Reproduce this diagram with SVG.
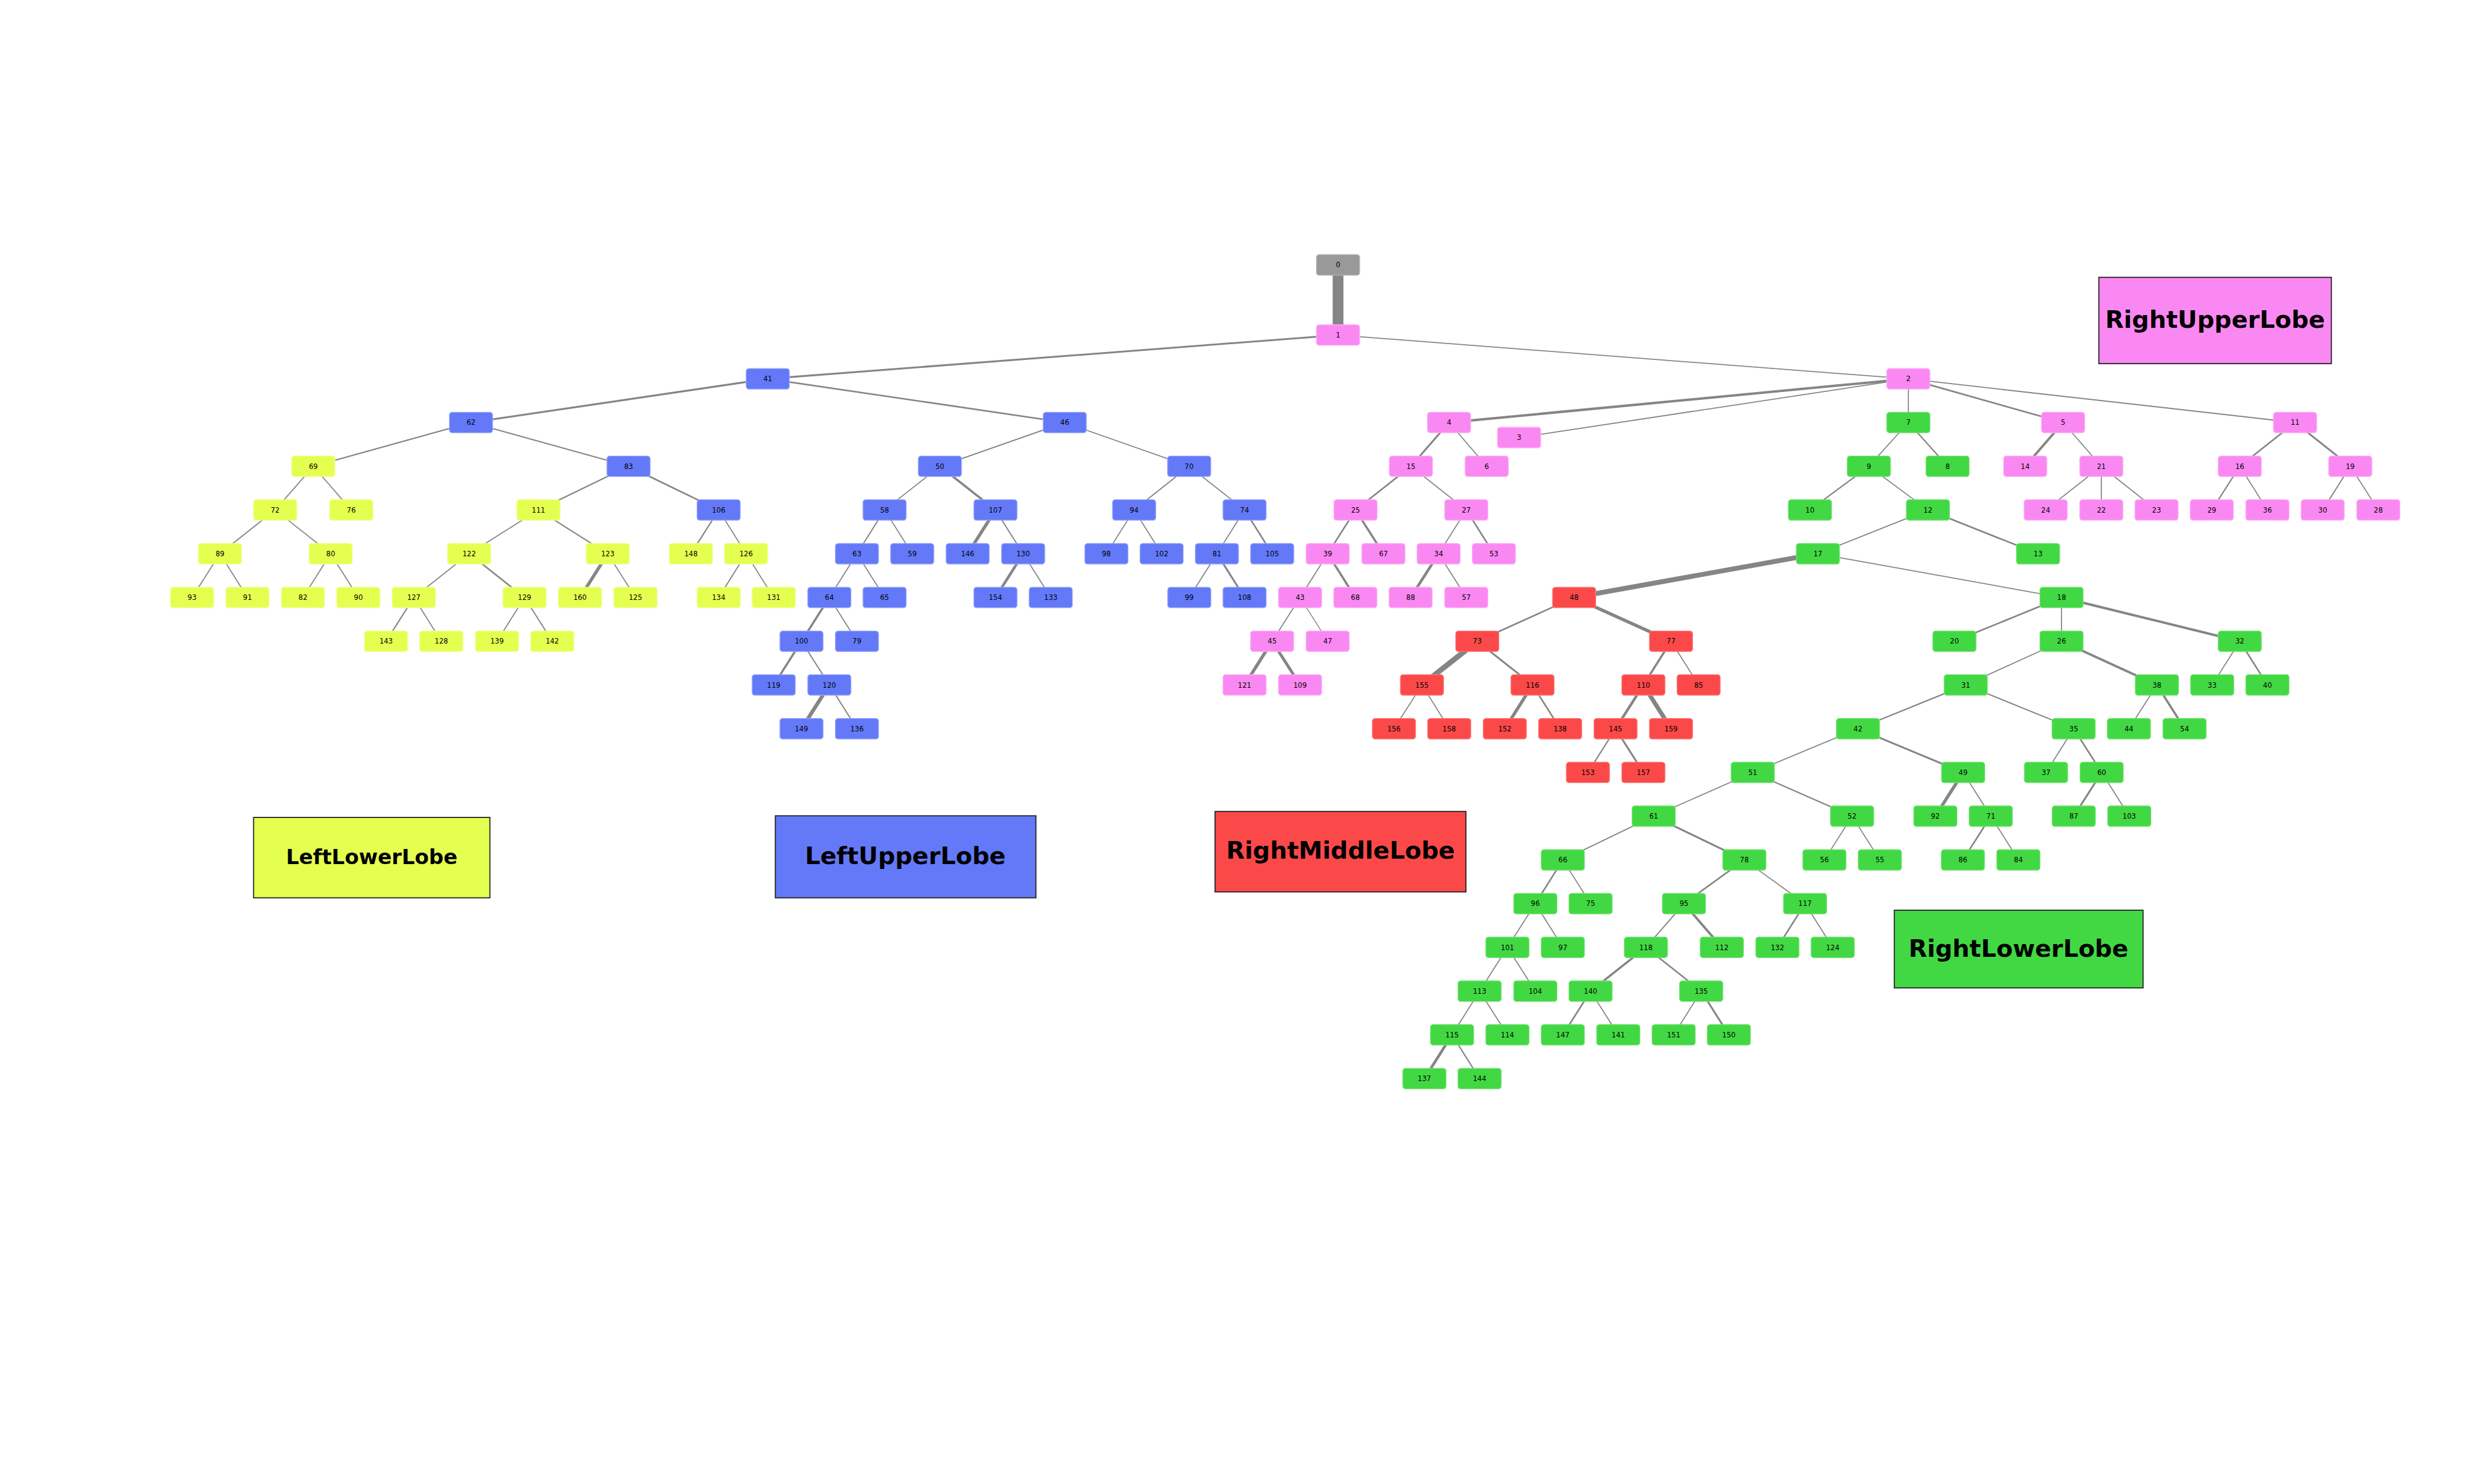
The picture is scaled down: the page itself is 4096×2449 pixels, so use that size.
<svg xmlns="http://www.w3.org/2000/svg" xmlns:xlink="http://www.w3.org/1999/xlink" width="4096" height="2449" viewBox="0 0 4096 2449">
<style>
.e line{stroke:#858585;stroke-linecap:butt}
.k{fill:#999999;stroke:#b5b5b5}
.p{fill:#fa88f2;stroke:#fcaef7}
.b{fill:#6479f8;stroke:#98a6fb}
.y{fill:#e5ff50;stroke:#eeff8c}
.r{fill:#fb4949;stroke:#fc7c7c}
.g{fill:#42d843;stroke:#74e175}
.nodes use{stroke-width:1.5}
.nodes text{font-family:"DejaVu Sans","Liberation Sans",sans-serif;font-size:13px;text-anchor:middle;fill:#000;stroke:none}
.lg{stroke:#222;stroke-width:2}
.lt{font-family:"DejaVu Sans","Liberation Sans",sans-serif;font-weight:bold;font-size:44.5px;text-anchor:middle;fill:#000;stroke:none}
</style>
<defs><rect id="bx" x="-40" y="-19" width="80" height="38" rx="5"/></defs>
<rect width="4096" height="2449" fill="#fff"/>
<g transform="scale(0.8904)">
<g id="connectors" class="e">
<line x1="2480" y1="491" x2="2480" y2="621" stroke-width="20"/>
<line x1="2480" y1="621" x2="1423" y2="702.1" stroke-width="3.5"/>
<line x1="2480" y1="621" x2="3537" y2="702.1" stroke-width="2"/>
<line x1="1423" y1="702.1" x2="873" y2="783.1" stroke-width="3.5"/>
<line x1="1423" y1="702.1" x2="1973.5" y2="783.1" stroke-width="3"/>
<line x1="873" y1="783.1" x2="580.7" y2="864.2" stroke-width="2.5"/>
<line x1="873" y1="783.1" x2="1165" y2="864.2" stroke-width="2.2"/>
<line x1="580.7" y1="864.2" x2="510" y2="945.2" stroke-width="2"/>
<line x1="580.7" y1="864.2" x2="651" y2="945.2" stroke-width="2"/>
<line x1="510" y1="945.2" x2="407.7" y2="1026.3" stroke-width="2.2"/>
<line x1="510" y1="945.2" x2="612.8" y2="1026.3" stroke-width="2"/>
<line x1="407.7" y1="1026.3" x2="356" y2="1107.4" stroke-width="2"/>
<line x1="407.7" y1="1026.3" x2="458.7" y2="1107.4" stroke-width="2"/>
<line x1="612.8" y1="1026.3" x2="561.5" y2="1107.4" stroke-width="2"/>
<line x1="612.8" y1="1026.3" x2="664.2" y2="1107.4" stroke-width="2"/>
<line x1="1165" y1="864.2" x2="998" y2="945.2" stroke-width="2.5"/>
<line x1="1165" y1="864.2" x2="1332" y2="945.2" stroke-width="3"/>
<line x1="998" y1="945.2" x2="869.5" y2="1026.3" stroke-width="2"/>
<line x1="998" y1="945.2" x2="1126.4" y2="1026.3" stroke-width="2.5"/>
<line x1="869.5" y1="1026.3" x2="767" y2="1107.4" stroke-width="2"/>
<line x1="869.5" y1="1026.3" x2="972.2" y2="1107.4" stroke-width="3"/>
<line x1="767" y1="1107.4" x2="715.6" y2="1188.5" stroke-width="2.5"/>
<line x1="767" y1="1107.4" x2="818" y2="1188.5" stroke-width="2"/>
<line x1="972.2" y1="1107.4" x2="921.2" y2="1188.5" stroke-width="2"/>
<line x1="972.2" y1="1107.4" x2="1023.6" y2="1188.5" stroke-width="2.2"/>
<line x1="1126.4" y1="1026.3" x2="1075" y2="1107.4" stroke-width="6"/>
<line x1="1126.4" y1="1026.3" x2="1177.8" y2="1107.4" stroke-width="2"/>
<line x1="1332" y1="945.2" x2="1280.6" y2="1026.3" stroke-width="2.5"/>
<line x1="1332" y1="945.2" x2="1382.8" y2="1026.3" stroke-width="2"/>
<line x1="1382.8" y1="1026.3" x2="1332" y2="1107.4" stroke-width="2.2"/>
<line x1="1382.8" y1="1026.3" x2="1434" y2="1107.4" stroke-width="2"/>
<line x1="1973.5" y1="783.1" x2="1742" y2="864.2" stroke-width="2.2"/>
<line x1="1973.5" y1="783.1" x2="2204" y2="864.2" stroke-width="2"/>
<line x1="1742" y1="864.2" x2="1639.5" y2="945.2" stroke-width="2"/>
<line x1="1742" y1="864.2" x2="1845" y2="945.2" stroke-width="4"/>
<line x1="1639.5" y1="945.2" x2="1588.3" y2="1026.3" stroke-width="2.2"/>
<line x1="1639.5" y1="945.2" x2="1690.7" y2="1026.3" stroke-width="2"/>
<line x1="1588.3" y1="1026.3" x2="1537.1" y2="1107.4" stroke-width="2"/>
<line x1="1588.3" y1="1026.3" x2="1639.5" y2="1107.4" stroke-width="2"/>
<line x1="1537.1" y1="1107.4" x2="1485.5" y2="1188.5" stroke-width="4"/>
<line x1="1537.1" y1="1107.4" x2="1588.3" y2="1188.5" stroke-width="2"/>
<line x1="1485.5" y1="1188.5" x2="1434" y2="1269.5" stroke-width="4"/>
<line x1="1485.5" y1="1188.5" x2="1537.1" y2="1269.5" stroke-width="2.2"/>
<line x1="1537.1" y1="1269.5" x2="1485.5" y2="1350.6" stroke-width="7"/>
<line x1="1537.1" y1="1269.5" x2="1588.3" y2="1350.6" stroke-width="2.2"/>
<line x1="1845" y1="945.2" x2="1793.5" y2="1026.3" stroke-width="6"/>
<line x1="1845" y1="945.2" x2="1896.3" y2="1026.3" stroke-width="2.2"/>
<line x1="1896.3" y1="1026.3" x2="1845" y2="1107.4" stroke-width="5"/>
<line x1="1896.3" y1="1026.3" x2="1947.5" y2="1107.4" stroke-width="2"/>
<line x1="2204" y1="864.2" x2="2102" y2="945.2" stroke-width="2.2"/>
<line x1="2204" y1="864.2" x2="2306.7" y2="945.2" stroke-width="2"/>
<line x1="2102" y1="945.2" x2="2050.6" y2="1026.3" stroke-width="2"/>
<line x1="2102" y1="945.2" x2="2153" y2="1026.3" stroke-width="2"/>
<line x1="2306.7" y1="945.2" x2="2255.5" y2="1026.3" stroke-width="2"/>
<line x1="2306.7" y1="945.2" x2="2357.9" y2="1026.3" stroke-width="3"/>
<line x1="2255.5" y1="1026.3" x2="2204.2" y2="1107.4" stroke-width="2"/>
<line x1="2255.5" y1="1026.3" x2="2306.7" y2="1107.4" stroke-width="3.5"/>
<line x1="3537" y1="702.1" x2="2685.7" y2="783.1" stroke-width="4.5"/>
<line x1="3537" y1="702.1" x2="2815.5" y2="811" stroke-width="2"/>
<line x1="3537" y1="702.1" x2="3537" y2="783.1" stroke-width="2"/>
<line x1="3537" y1="702.1" x2="3823.7" y2="783.1" stroke-width="3"/>
<line x1="3537" y1="702.1" x2="4253.7" y2="783.1" stroke-width="2.2"/>
<line x1="2685.7" y1="783.1" x2="2615" y2="864.2" stroke-width="3.5"/>
<line x1="2685.7" y1="783.1" x2="2755.5" y2="864.2" stroke-width="2"/>
<line x1="2615" y1="864.2" x2="2512.4" y2="945.2" stroke-width="3"/>
<line x1="2615" y1="864.2" x2="2717.6" y2="945.2" stroke-width="2"/>
<line x1="2512.4" y1="945.2" x2="2460.8" y2="1026.3" stroke-width="3"/>
<line x1="2512.4" y1="945.2" x2="2564" y2="1026.3" stroke-width="4"/>
<line x1="2717.6" y1="945.2" x2="2666.4" y2="1026.3" stroke-width="2"/>
<line x1="2717.6" y1="945.2" x2="2768.8" y2="1026.3" stroke-width="3"/>
<line x1="2460.8" y1="1026.3" x2="2409.6" y2="1107.4" stroke-width="2"/>
<line x1="2460.8" y1="1026.3" x2="2512" y2="1107.4" stroke-width="4"/>
<line x1="2666.4" y1="1026.3" x2="2614.5" y2="1107.4" stroke-width="5"/>
<line x1="2666.4" y1="1026.3" x2="2717.6" y2="1107.4" stroke-width="2"/>
<line x1="2409.6" y1="1107.4" x2="2357.8" y2="1188.5" stroke-width="2"/>
<line x1="2409.6" y1="1107.4" x2="2460.8" y2="1188.5" stroke-width="1.6"/>
<line x1="2357.8" y1="1188.5" x2="2306.7" y2="1269.5" stroke-width="6"/>
<line x1="2357.8" y1="1188.5" x2="2409.6" y2="1269.5" stroke-width="5.5"/>
<line x1="3823.7" y1="783.1" x2="3753.6" y2="864.2" stroke-width="4.5"/>
<line x1="3823.7" y1="783.1" x2="3894.6" y2="864.2" stroke-width="2"/>
<line x1="3894.6" y1="864.2" x2="3791.5" y2="945.2" stroke-width="2"/>
<line x1="3894.6" y1="864.2" x2="3894.6" y2="945.2" stroke-width="2"/>
<line x1="3894.6" y1="864.2" x2="3997" y2="945.2" stroke-width="2"/>
<line x1="4253.7" y1="783.1" x2="4151.3" y2="864.2" stroke-width="3"/>
<line x1="4253.7" y1="783.1" x2="4356" y2="864.2" stroke-width="3.5"/>
<line x1="4151.3" y1="864.2" x2="4099.4" y2="945.2" stroke-width="2.5"/>
<line x1="4151.3" y1="864.2" x2="4202.5" y2="945.2" stroke-width="2"/>
<line x1="4356" y1="864.2" x2="4305" y2="945.2" stroke-width="2.2"/>
<line x1="4356" y1="864.2" x2="4408" y2="945.2" stroke-width="2"/>
<line x1="3537" y1="783.1" x2="3463.8" y2="864.2" stroke-width="2"/>
<line x1="3537" y1="783.1" x2="3609.7" y2="864.2" stroke-width="2.5"/>
<line x1="3463.8" y1="864.2" x2="3354.6" y2="945.2" stroke-width="2.5"/>
<line x1="3463.8" y1="864.2" x2="3573.3" y2="945.2" stroke-width="2"/>
<line x1="3573.3" y1="945.2" x2="3369.3" y2="1026.3" stroke-width="2.2"/>
<line x1="3573.3" y1="945.2" x2="3777.4" y2="1026.3" stroke-width="3"/>
<line x1="3369.3" y1="1026.3" x2="2917.5" y2="1107.4" stroke-width="9"/>
<line x1="3369.3" y1="1026.3" x2="3820.9" y2="1107.4" stroke-width="2"/>
<line x1="2917.5" y1="1107.4" x2="2738" y2="1188.5" stroke-width="3"/>
<line x1="2917.5" y1="1107.4" x2="3097.1" y2="1188.5" stroke-width="6"/>
<line x1="2738" y1="1188.5" x2="2635.5" y2="1269.5" stroke-width="10"/>
<line x1="2738" y1="1188.5" x2="2840.4" y2="1269.5" stroke-width="3.5"/>
<line x1="3097.1" y1="1188.5" x2="3045.9" y2="1269.5" stroke-width="4"/>
<line x1="3097.1" y1="1188.5" x2="3148.3" y2="1269.5" stroke-width="2"/>
<line x1="2635.5" y1="1269.5" x2="2583.6" y2="1350.6" stroke-width="2"/>
<line x1="2635.5" y1="1269.5" x2="2686" y2="1350.6" stroke-width="2"/>
<line x1="2840.4" y1="1269.5" x2="2789.1" y2="1350.6" stroke-width="6"/>
<line x1="2840.4" y1="1269.5" x2="2891.6" y2="1350.6" stroke-width="3"/>
<line x1="3045.9" y1="1269.5" x2="2994.3" y2="1350.6" stroke-width="5"/>
<line x1="3045.9" y1="1269.5" x2="3097.1" y2="1350.6" stroke-width="8"/>
<line x1="2994.3" y1="1350.6" x2="2943.1" y2="1431.7" stroke-width="2.5"/>
<line x1="2994.3" y1="1350.6" x2="3045.9" y2="1431.7" stroke-width="3.5"/>
<line x1="3820.9" y1="1107.4" x2="3622.4" y2="1188.5" stroke-width="3"/>
<line x1="3820.9" y1="1107.4" x2="3820.9" y2="1188.5" stroke-width="2"/>
<line x1="3820.9" y1="1107.4" x2="4151.3" y2="1188.5" stroke-width="4.5"/>
<line x1="3820.9" y1="1188.5" x2="3643.4" y2="1269.5" stroke-width="2"/>
<line x1="3820.9" y1="1188.5" x2="3997.7" y2="1269.5" stroke-width="4.5"/>
<line x1="4151.3" y1="1188.5" x2="4100.1" y2="1269.5" stroke-width="2"/>
<line x1="4151.3" y1="1188.5" x2="4202.5" y2="1269.5" stroke-width="3"/>
<line x1="3643.4" y1="1269.5" x2="3443.6" y2="1350.6" stroke-width="2.5"/>
<line x1="3643.4" y1="1269.5" x2="3843.4" y2="1350.6" stroke-width="2.2"/>
<line x1="3997.7" y1="1269.5" x2="3945.8" y2="1350.6" stroke-width="2"/>
<line x1="3997.7" y1="1269.5" x2="4048.9" y2="1350.6" stroke-width="4"/>
<line x1="3443.6" y1="1350.6" x2="3248.6" y2="1431.7" stroke-width="2"/>
<line x1="3443.6" y1="1350.6" x2="3638.5" y2="1431.7" stroke-width="3.5"/>
<line x1="3843.4" y1="1350.6" x2="3792.1" y2="1431.7" stroke-width="2"/>
<line x1="3843.4" y1="1350.6" x2="3895.3" y2="1431.7" stroke-width="3"/>
<line x1="3638.5" y1="1431.7" x2="3587" y2="1512.7" stroke-width="6"/>
<line x1="3638.5" y1="1431.7" x2="3689.8" y2="1512.7" stroke-width="2"/>
<line x1="3895.3" y1="1431.7" x2="3843.6" y2="1512.7" stroke-width="3.5"/>
<line x1="3895.3" y1="1431.7" x2="3946.4" y2="1512.7" stroke-width="2"/>
<line x1="3689.8" y1="1512.7" x2="3638.1" y2="1593.8" stroke-width="3"/>
<line x1="3689.8" y1="1512.7" x2="3740.9" y2="1593.8" stroke-width="2"/>
<line x1="3248.6" y1="1431.7" x2="3065" y2="1512.7" stroke-width="2"/>
<line x1="3248.6" y1="1431.7" x2="3432.7" y2="1512.7" stroke-width="2.5"/>
<line x1="3432.7" y1="1512.7" x2="3381.4" y2="1593.8" stroke-width="2"/>
<line x1="3432.7" y1="1512.7" x2="3484.2" y2="1593.8" stroke-width="2"/>
<line x1="3065" y1="1512.7" x2="2896.6" y2="1593.8" stroke-width="2.2"/>
<line x1="3065" y1="1512.7" x2="3233" y2="1593.8" stroke-width="3.5"/>
<line x1="2896.6" y1="1593.8" x2="2845.6" y2="1674.8" stroke-width="3"/>
<line x1="2896.6" y1="1593.8" x2="2948" y2="1674.8" stroke-width="2"/>
<line x1="3233" y1="1593.8" x2="3121.1" y2="1674.8" stroke-width="3"/>
<line x1="3233" y1="1593.8" x2="3345.5" y2="1674.8" stroke-width="2"/>
<line x1="2845.6" y1="1674.8" x2="2793.9" y2="1755.9" stroke-width="2"/>
<line x1="2845.6" y1="1674.8" x2="2896.6" y2="1755.9" stroke-width="2"/>
<line x1="3121.1" y1="1674.8" x2="3050.6" y2="1755.9" stroke-width="2.2"/>
<line x1="3121.1" y1="1674.8" x2="3191.3" y2="1755.9" stroke-width="4.5"/>
<line x1="3345.5" y1="1674.8" x2="3294.3" y2="1755.9" stroke-width="3"/>
<line x1="3345.5" y1="1674.8" x2="3396.8" y2="1755.9" stroke-width="2"/>
<line x1="2793.9" y1="1755.9" x2="2742.3" y2="1837" stroke-width="2"/>
<line x1="2793.9" y1="1755.9" x2="2845.6" y2="1837" stroke-width="2"/>
<line x1="3050.6" y1="1755.9" x2="2948" y2="1837" stroke-width="4"/>
<line x1="3050.6" y1="1755.9" x2="3153" y2="1837" stroke-width="3"/>
<line x1="2742.3" y1="1837" x2="2691.3" y2="1918" stroke-width="2"/>
<line x1="2742.3" y1="1837" x2="2793.9" y2="1918" stroke-width="2"/>
<line x1="2948" y1="1837" x2="2896.6" y2="1918" stroke-width="3"/>
<line x1="2948" y1="1837" x2="2999.3" y2="1918" stroke-width="2"/>
<line x1="3153" y1="1837" x2="3102" y2="1918" stroke-width="2"/>
<line x1="3153" y1="1837" x2="3204.3" y2="1918" stroke-width="3.5"/>
<line x1="2691.3" y1="1918" x2="2640" y2="1999.1" stroke-width="5"/>
<line x1="2691.3" y1="1918" x2="2742.3" y2="1999.1" stroke-width="2.5"/>
</g>
<g id="nodes" class="nodes">
<g id="n0" class="k" transform="translate(2480,491)"><use href="#bx"/><text y="4.7">0</text></g>
<g id="n1" class="p" transform="translate(2480,621)"><use href="#bx"/><text y="4.7">1</text></g>
<g id="n41" class="b" transform="translate(1423,702.1)"><use href="#bx"/><text y="4.7">41</text></g>
<g id="n2" class="p" transform="translate(3537,702.1)"><use href="#bx"/><text y="4.7">2</text></g>
<g id="n62" class="b" transform="translate(873,783.1)"><use href="#bx"/><text y="4.7">62</text></g>
<g id="n46" class="b" transform="translate(1973.5,783.1)"><use href="#bx"/><text y="4.7">46</text></g>
<g id="n4" class="p" transform="translate(2685.7,783.1)"><use href="#bx"/><text y="4.7">4</text></g>
<g id="n3" class="p" transform="translate(2815.5,811)"><use href="#bx"/><text y="4.7">3</text></g>
<g id="n7" class="g" transform="translate(3537,783.1)"><use href="#bx"/><text y="4.7">7</text></g>
<g id="n5" class="p" transform="translate(3823.7,783.1)"><use href="#bx"/><text y="4.7">5</text></g>
<g id="n11" class="p" transform="translate(4253.7,783.1)"><use href="#bx"/><text y="4.7">11</text></g>
<g id="n69" class="y" transform="translate(580.7,864.2)"><use href="#bx"/><text y="4.7">69</text></g>
<g id="n83" class="b" transform="translate(1165,864.2)"><use href="#bx"/><text y="4.7">83</text></g>
<g id="n50" class="b" transform="translate(1742,864.2)"><use href="#bx"/><text y="4.7">50</text></g>
<g id="n70" class="b" transform="translate(2204,864.2)"><use href="#bx"/><text y="4.7">70</text></g>
<g id="n15" class="p" transform="translate(2615,864.2)"><use href="#bx"/><text y="4.7">15</text></g>
<g id="n6" class="p" transform="translate(2755.5,864.2)"><use href="#bx"/><text y="4.7">6</text></g>
<g id="n9" class="g" transform="translate(3463.8,864.2)"><use href="#bx"/><text y="4.7">9</text></g>
<g id="n8" class="g" transform="translate(3609.7,864.2)"><use href="#bx"/><text y="4.7">8</text></g>
<g id="n14" class="p" transform="translate(3753.6,864.2)"><use href="#bx"/><text y="4.7">14</text></g>
<g id="n21" class="p" transform="translate(3894.6,864.2)"><use href="#bx"/><text y="4.7">21</text></g>
<g id="n16" class="p" transform="translate(4151.3,864.2)"><use href="#bx"/><text y="4.7">16</text></g>
<g id="n19" class="p" transform="translate(4356,864.2)"><use href="#bx"/><text y="4.7">19</text></g>
<g id="n72" class="y" transform="translate(510,945.2)"><use href="#bx"/><text y="4.7">72</text></g>
<g id="n76" class="y" transform="translate(651,945.2)"><use href="#bx"/><text y="4.7">76</text></g>
<g id="n111" class="y" transform="translate(998,945.2)"><use href="#bx"/><text y="4.7">111</text></g>
<g id="n106" class="b" transform="translate(1332,945.2)"><use href="#bx"/><text y="4.7">106</text></g>
<g id="n58" class="b" transform="translate(1639.5,945.2)"><use href="#bx"/><text y="4.7">58</text></g>
<g id="n107" class="b" transform="translate(1845,945.2)"><use href="#bx"/><text y="4.7">107</text></g>
<g id="n94" class="b" transform="translate(2102,945.2)"><use href="#bx"/><text y="4.7">94</text></g>
<g id="n74" class="b" transform="translate(2306.7,945.2)"><use href="#bx"/><text y="4.7">74</text></g>
<g id="n25" class="p" transform="translate(2512.4,945.2)"><use href="#bx"/><text y="4.7">25</text></g>
<g id="n27" class="p" transform="translate(2717.6,945.2)"><use href="#bx"/><text y="4.7">27</text></g>
<g id="n10" class="g" transform="translate(3354.6,945.2)"><use href="#bx"/><text y="4.7">10</text></g>
<g id="n12" class="g" transform="translate(3573.3,945.2)"><use href="#bx"/><text y="4.7">12</text></g>
<g id="n24" class="p" transform="translate(3791.5,945.2)"><use href="#bx"/><text y="4.7">24</text></g>
<g id="n22" class="p" transform="translate(3894.6,945.2)"><use href="#bx"/><text y="4.7">22</text></g>
<g id="n23" class="p" transform="translate(3997,945.2)"><use href="#bx"/><text y="4.7">23</text></g>
<g id="n29" class="p" transform="translate(4099.4,945.2)"><use href="#bx"/><text y="4.7">29</text></g>
<g id="n36" class="p" transform="translate(4202.5,945.2)"><use href="#bx"/><text y="4.7">36</text></g>
<g id="n30" class="p" transform="translate(4305,945.2)"><use href="#bx"/><text y="4.7">30</text></g>
<g id="n28" class="p" transform="translate(4408,945.2)"><use href="#bx"/><text y="4.7">28</text></g>
<g id="n89" class="y" transform="translate(407.7,1026.3)"><use href="#bx"/><text y="4.7">89</text></g>
<g id="n80" class="y" transform="translate(612.8,1026.3)"><use href="#bx"/><text y="4.7">80</text></g>
<g id="n122" class="y" transform="translate(869.5,1026.3)"><use href="#bx"/><text y="4.7">122</text></g>
<g id="n123" class="y" transform="translate(1126.4,1026.3)"><use href="#bx"/><text y="4.7">123</text></g>
<g id="n148" class="y" transform="translate(1280.6,1026.3)"><use href="#bx"/><text y="4.7">148</text></g>
<g id="n126" class="y" transform="translate(1382.8,1026.3)"><use href="#bx"/><text y="4.7">126</text></g>
<g id="n63" class="b" transform="translate(1588.3,1026.3)"><use href="#bx"/><text y="4.7">63</text></g>
<g id="n59" class="b" transform="translate(1690.7,1026.3)"><use href="#bx"/><text y="4.7">59</text></g>
<g id="n146" class="b" transform="translate(1793.5,1026.3)"><use href="#bx"/><text y="4.7">146</text></g>
<g id="n130" class="b" transform="translate(1896.3,1026.3)"><use href="#bx"/><text y="4.7">130</text></g>
<g id="n98" class="b" transform="translate(2050.6,1026.3)"><use href="#bx"/><text y="4.7">98</text></g>
<g id="n102" class="b" transform="translate(2153,1026.3)"><use href="#bx"/><text y="4.7">102</text></g>
<g id="n81" class="b" transform="translate(2255.5,1026.3)"><use href="#bx"/><text y="4.7">81</text></g>
<g id="n105" class="b" transform="translate(2357.9,1026.3)"><use href="#bx"/><text y="4.7">105</text></g>
<g id="n39" class="p" transform="translate(2460.8,1026.3)"><use href="#bx"/><text y="4.7">39</text></g>
<g id="n67" class="p" transform="translate(2564,1026.3)"><use href="#bx"/><text y="4.7">67</text></g>
<g id="n34" class="p" transform="translate(2666.4,1026.3)"><use href="#bx"/><text y="4.7">34</text></g>
<g id="n53" class="p" transform="translate(2768.8,1026.3)"><use href="#bx"/><text y="4.7">53</text></g>
<g id="n17" class="g" transform="translate(3369.3,1026.3)"><use href="#bx"/><text y="4.7">17</text></g>
<g id="n13" class="g" transform="translate(3777.4,1026.3)"><use href="#bx"/><text y="4.7">13</text></g>
<g id="n93" class="y" transform="translate(356,1107.4)"><use href="#bx"/><text y="4.7">93</text></g>
<g id="n91" class="y" transform="translate(458.7,1107.4)"><use href="#bx"/><text y="4.7">91</text></g>
<g id="n82" class="y" transform="translate(561.5,1107.4)"><use href="#bx"/><text y="4.7">82</text></g>
<g id="n90" class="y" transform="translate(664.2,1107.4)"><use href="#bx"/><text y="4.7">90</text></g>
<g id="n127" class="y" transform="translate(767,1107.4)"><use href="#bx"/><text y="4.7">127</text></g>
<g id="n129" class="y" transform="translate(972.2,1107.4)"><use href="#bx"/><text y="4.7">129</text></g>
<g id="n160" class="y" transform="translate(1075,1107.4)"><use href="#bx"/><text y="4.7">160</text></g>
<g id="n125" class="y" transform="translate(1177.8,1107.4)"><use href="#bx"/><text y="4.7">125</text></g>
<g id="n134" class="y" transform="translate(1332,1107.4)"><use href="#bx"/><text y="4.7">134</text></g>
<g id="n131" class="y" transform="translate(1434,1107.4)"><use href="#bx"/><text y="4.7">131</text></g>
<g id="n64" class="b" transform="translate(1537.1,1107.4)"><use href="#bx"/><text y="4.7">64</text></g>
<g id="n65" class="b" transform="translate(1639.5,1107.4)"><use href="#bx"/><text y="4.7">65</text></g>
<g id="n154" class="b" transform="translate(1845,1107.4)"><use href="#bx"/><text y="4.7">154</text></g>
<g id="n133" class="b" transform="translate(1947.5,1107.4)"><use href="#bx"/><text y="4.7">133</text></g>
<g id="n99" class="b" transform="translate(2204.2,1107.4)"><use href="#bx"/><text y="4.7">99</text></g>
<g id="n108" class="b" transform="translate(2306.7,1107.4)"><use href="#bx"/><text y="4.7">108</text></g>
<g id="n43" class="p" transform="translate(2409.6,1107.4)"><use href="#bx"/><text y="4.7">43</text></g>
<g id="n68" class="p" transform="translate(2512,1107.4)"><use href="#bx"/><text y="4.7">68</text></g>
<g id="n88" class="p" transform="translate(2614.5,1107.4)"><use href="#bx"/><text y="4.7">88</text></g>
<g id="n57" class="p" transform="translate(2717.6,1107.4)"><use href="#bx"/><text y="4.7">57</text></g>
<g id="n48" class="r" transform="translate(2917.5,1107.4)"><use href="#bx"/><text y="4.7">48</text></g>
<g id="n18" class="g" transform="translate(3820.9,1107.4)"><use href="#bx"/><text y="4.7">18</text></g>
<g id="n143" class="y" transform="translate(715.6,1188.5)"><use href="#bx"/><text y="4.7">143</text></g>
<g id="n128" class="y" transform="translate(818,1188.5)"><use href="#bx"/><text y="4.7">128</text></g>
<g id="n139" class="y" transform="translate(921.2,1188.5)"><use href="#bx"/><text y="4.7">139</text></g>
<g id="n142" class="y" transform="translate(1023.6,1188.5)"><use href="#bx"/><text y="4.7">142</text></g>
<g id="n100" class="b" transform="translate(1485.5,1188.5)"><use href="#bx"/><text y="4.7">100</text></g>
<g id="n79" class="b" transform="translate(1588.3,1188.5)"><use href="#bx"/><text y="4.7">79</text></g>
<g id="n45" class="p" transform="translate(2357.8,1188.5)"><use href="#bx"/><text y="4.7">45</text></g>
<g id="n47" class="p" transform="translate(2460.8,1188.5)"><use href="#bx"/><text y="4.7">47</text></g>
<g id="n73" class="r" transform="translate(2738,1188.5)"><use href="#bx"/><text y="4.7">73</text></g>
<g id="n77" class="r" transform="translate(3097.1,1188.5)"><use href="#bx"/><text y="4.7">77</text></g>
<g id="n20" class="g" transform="translate(3622.4,1188.5)"><use href="#bx"/><text y="4.7">20</text></g>
<g id="n26" class="g" transform="translate(3820.9,1188.5)"><use href="#bx"/><text y="4.7">26</text></g>
<g id="n32" class="g" transform="translate(4151.3,1188.5)"><use href="#bx"/><text y="4.7">32</text></g>
<g id="n119" class="b" transform="translate(1434,1269.5)"><use href="#bx"/><text y="4.7">119</text></g>
<g id="n120" class="b" transform="translate(1537.1,1269.5)"><use href="#bx"/><text y="4.7">120</text></g>
<g id="n121" class="p" transform="translate(2306.7,1269.5)"><use href="#bx"/><text y="4.7">121</text></g>
<g id="n109" class="p" transform="translate(2409.6,1269.5)"><use href="#bx"/><text y="4.7">109</text></g>
<g id="n155" class="r" transform="translate(2635.5,1269.5)"><use href="#bx"/><text y="4.7">155</text></g>
<g id="n116" class="r" transform="translate(2840.4,1269.5)"><use href="#bx"/><text y="4.7">116</text></g>
<g id="n110" class="r" transform="translate(3045.9,1269.5)"><use href="#bx"/><text y="4.7">110</text></g>
<g id="n85" class="r" transform="translate(3148.3,1269.5)"><use href="#bx"/><text y="4.7">85</text></g>
<g id="n31" class="g" transform="translate(3643.4,1269.5)"><use href="#bx"/><text y="4.7">31</text></g>
<g id="n38" class="g" transform="translate(3997.7,1269.5)"><use href="#bx"/><text y="4.7">38</text></g>
<g id="n33" class="g" transform="translate(4100.1,1269.5)"><use href="#bx"/><text y="4.7">33</text></g>
<g id="n40" class="g" transform="translate(4202.5,1269.5)"><use href="#bx"/><text y="4.7">40</text></g>
<g id="n149" class="b" transform="translate(1485.5,1350.6)"><use href="#bx"/><text y="4.7">149</text></g>
<g id="n136" class="b" transform="translate(1588.3,1350.6)"><use href="#bx"/><text y="4.7">136</text></g>
<g id="n156" class="r" transform="translate(2583.6,1350.6)"><use href="#bx"/><text y="4.7">156</text></g>
<g id="n158" class="r" transform="translate(2686,1350.6)"><use href="#bx"/><text y="4.7">158</text></g>
<g id="n152" class="r" transform="translate(2789.1,1350.6)"><use href="#bx"/><text y="4.7">152</text></g>
<g id="n138" class="r" transform="translate(2891.6,1350.6)"><use href="#bx"/><text y="4.7">138</text></g>
<g id="n145" class="r" transform="translate(2994.3,1350.6)"><use href="#bx"/><text y="4.7">145</text></g>
<g id="n159" class="r" transform="translate(3097.1,1350.6)"><use href="#bx"/><text y="4.7">159</text></g>
<g id="n42" class="g" transform="translate(3443.6,1350.6)"><use href="#bx"/><text y="4.7">42</text></g>
<g id="n35" class="g" transform="translate(3843.4,1350.6)"><use href="#bx"/><text y="4.7">35</text></g>
<g id="n44" class="g" transform="translate(3945.8,1350.6)"><use href="#bx"/><text y="4.7">44</text></g>
<g id="n54" class="g" transform="translate(4048.9,1350.6)"><use href="#bx"/><text y="4.7">54</text></g>
<g id="n153" class="r" transform="translate(2943.1,1431.7)"><use href="#bx"/><text y="4.7">153</text></g>
<g id="n157" class="r" transform="translate(3045.9,1431.7)"><use href="#bx"/><text y="4.7">157</text></g>
<g id="n51" class="g" transform="translate(3248.6,1431.7)"><use href="#bx"/><text y="4.7">51</text></g>
<g id="n49" class="g" transform="translate(3638.5,1431.7)"><use href="#bx"/><text y="4.7">49</text></g>
<g id="n37" class="g" transform="translate(3792.1,1431.7)"><use href="#bx"/><text y="4.7">37</text></g>
<g id="n60" class="g" transform="translate(3895.3,1431.7)"><use href="#bx"/><text y="4.7">60</text></g>
<g id="n61" class="g" transform="translate(3065,1512.7)"><use href="#bx"/><text y="4.7">61</text></g>
<g id="n52" class="g" transform="translate(3432.7,1512.7)"><use href="#bx"/><text y="4.7">52</text></g>
<g id="n92" class="g" transform="translate(3587,1512.7)"><use href="#bx"/><text y="4.7">92</text></g>
<g id="n71" class="g" transform="translate(3689.8,1512.7)"><use href="#bx"/><text y="4.7">71</text></g>
<g id="n87" class="g" transform="translate(3843.6,1512.7)"><use href="#bx"/><text y="4.7">87</text></g>
<g id="n103" class="g" transform="translate(3946.4,1512.7)"><use href="#bx"/><text y="4.7">103</text></g>
<g id="n66" class="g" transform="translate(2896.6,1593.8)"><use href="#bx"/><text y="4.7">66</text></g>
<g id="n78" class="g" transform="translate(3233,1593.8)"><use href="#bx"/><text y="4.7">78</text></g>
<g id="n56" class="g" transform="translate(3381.4,1593.8)"><use href="#bx"/><text y="4.7">56</text></g>
<g id="n55" class="g" transform="translate(3484.2,1593.8)"><use href="#bx"/><text y="4.7">55</text></g>
<g id="n86" class="g" transform="translate(3638.1,1593.8)"><use href="#bx"/><text y="4.7">86</text></g>
<g id="n84" class="g" transform="translate(3740.9,1593.8)"><use href="#bx"/><text y="4.7">84</text></g>
<g id="n96" class="g" transform="translate(2845.6,1674.8)"><use href="#bx"/><text y="4.7">96</text></g>
<g id="n75" class="g" transform="translate(2948,1674.8)"><use href="#bx"/><text y="4.7">75</text></g>
<g id="n95" class="g" transform="translate(3121.1,1674.8)"><use href="#bx"/><text y="4.7">95</text></g>
<g id="n117" class="g" transform="translate(3345.5,1674.8)"><use href="#bx"/><text y="4.7">117</text></g>
<g id="n101" class="g" transform="translate(2793.9,1755.9)"><use href="#bx"/><text y="4.7">101</text></g>
<g id="n97" class="g" transform="translate(2896.6,1755.9)"><use href="#bx"/><text y="4.7">97</text></g>
<g id="n118" class="g" transform="translate(3050.6,1755.9)"><use href="#bx"/><text y="4.7">118</text></g>
<g id="n112" class="g" transform="translate(3191.3,1755.9)"><use href="#bx"/><text y="4.7">112</text></g>
<g id="n132" class="g" transform="translate(3294.3,1755.9)"><use href="#bx"/><text y="4.7">132</text></g>
<g id="n124" class="g" transform="translate(3396.8,1755.9)"><use href="#bx"/><text y="4.7">124</text></g>
<g id="n113" class="g" transform="translate(2742.3,1837)"><use href="#bx"/><text y="4.7">113</text></g>
<g id="n104" class="g" transform="translate(2845.6,1837)"><use href="#bx"/><text y="4.7">104</text></g>
<g id="n140" class="g" transform="translate(2948,1837)"><use href="#bx"/><text y="4.7">140</text></g>
<g id="n135" class="g" transform="translate(3153,1837)"><use href="#bx"/><text y="4.7">135</text></g>
<g id="n115" class="g" transform="translate(2691.3,1918)"><use href="#bx"/><text y="4.7">115</text></g>
<g id="n114" class="g" transform="translate(2793.9,1918)"><use href="#bx"/><text y="4.7">114</text></g>
<g id="n147" class="g" transform="translate(2896.6,1918)"><use href="#bx"/><text y="4.7">147</text></g>
<g id="n141" class="g" transform="translate(2999.3,1918)"><use href="#bx"/><text y="4.7">141</text></g>
<g id="n151" class="g" transform="translate(3102,1918)"><use href="#bx"/><text y="4.7">151</text></g>
<g id="n150" class="g" transform="translate(3204.3,1918)"><use href="#bx"/><text y="4.7">150</text></g>
<g id="n137" class="g" transform="translate(2640,1999.1)"><use href="#bx"/><text y="4.7">137</text></g>
<g id="n144" class="g" transform="translate(2742.3,1999.1)"><use href="#bx"/><text y="4.7">144</text></g>
</g>
<g id="legend">
<g id="lg-RightUpperLobe"><rect class="lg p" x="3890" y="514" width="431" height="160"/><text class="lt" x="4105.5" y="608">RightUpperLobe</text></g>
<g id="lg-LeftLowerLobe"><rect class="lg y" x="470" y="1515" width="438" height="149"/><text class="lt" x="689" y="1601" style="font-size:38px">LeftLowerLobe</text></g>
<g id="lg-LeftUpperLobe"><rect class="lg b" x="1437" y="1512" width="483" height="152"/><text class="lt" x="1678" y="1602">LeftUpperLobe</text></g>
<g id="lg-RightMiddleLobe"><rect class="lg r" x="2252" y="1504" width="465" height="149"/><text class="lt" x="2484.5" y="1591">RightMiddleLobe</text></g>
<g id="lg-RightLowerLobe"><rect class="lg g" x="3511" y="1687" width="461" height="144"/><text class="lt" x="3741" y="1773">RightLowerLobe</text></g>
</g>
</g>
</svg>
